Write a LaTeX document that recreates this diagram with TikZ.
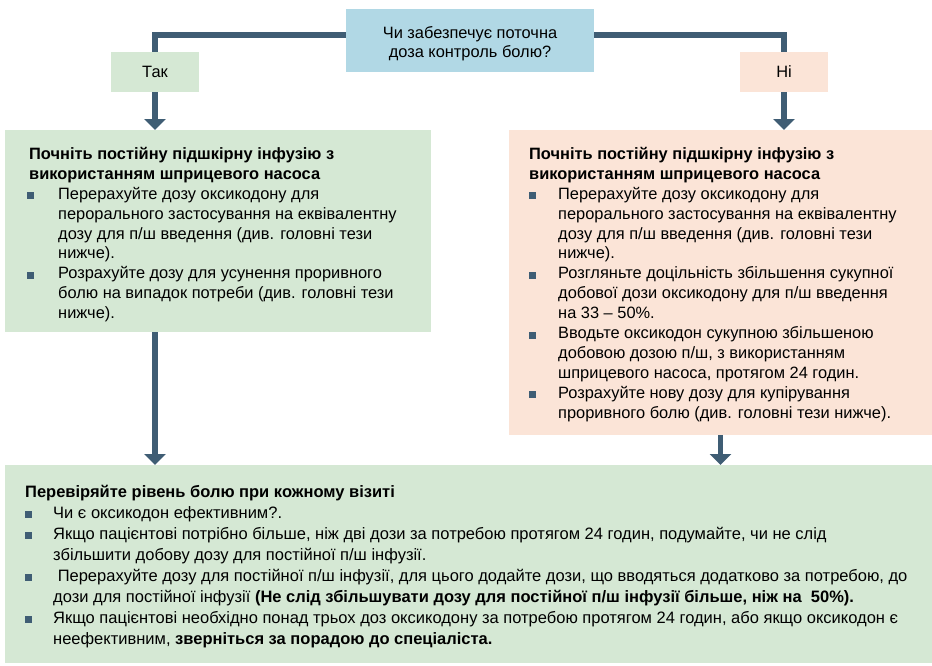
\documentclass[tikz,border=0pt]{standalone}
\usepackage{fontspec}
\setmainfont{Liberation Sans}
\usetikzlibrary{arrows.meta}

\definecolor{linec}{RGB}{63,93,116}
\definecolor{qfill}{RGB}{177,216,229}
\definecolor{gfill}{RGB}{213,232,212}
\definecolor{pfill}{RGB}{251,228,215}

% square bullet and hanging indents
\newcommand{\sqmark}{\textcolor{linec}{\rule{7pt}{7pt}}}
\newcommand{\itm}[1]{\makebox[#1][l]{\sqmark}}
\newcommand{\cnt}[1]{\hspace*{#1}}

\begin{document}
\begin{tikzpicture}[x=1pt,y=-1pt,
  boxnode/.style={draw=none,inner sep=0pt,outer sep=0pt},
  txt/.style={inner sep=0pt,anchor=north west,align=left,
    font=\fontsize{16.4}{19.9}\selectfont},
  conn/.style={draw=linec,line width=5.5pt},
  arr/.style={conn,-{Triangle[width=21pt,length=11pt]}}]
\useasboundingbox (0,0) rectangle (932,665);

% question and answers
\node[boxnode,fill=qfill,minimum width=248pt,minimum height=63pt] (q) at (470,40.5) {};
\node[inner sep=0pt,align=center,font=\fontsize{16.4}{19.5}\selectfont]
  (qt) at ([yshift=-3pt]q.center) {Чи забезпечує поточна\\доза контроль болю?};
\node[boxnode,fill=gfill,minimum width=88pt,minimum height=40pt,
  font=\fontsize{16.4}{18}\selectfont] (yes) at (155,72) {Так};
\node[boxnode,fill=pfill,minimum width=88pt,minimum height=40pt,
  font=\fontsize{16.4}{18}\selectfont] (no) at (784,72) {Ні};

% action boxes
\node[boxnode,fill=gfill,minimum width=426pt,minimum height=202pt] (L) at (218,231) {};
\node[boxnode,fill=pfill,minimum width=423pt,minimum height=305pt] (R) at (720.5,282.5) {};
\node[boxnode,fill=gfill,minimum width=927pt,minimum height=198pt] (B) at (468.5,564) {};

\node[txt] (lt) at (29,147) {%
\textbf{Почніть постійну підшкірну інфузію з}\\
\textbf{використанням шприцевого насоса}\\
\hspace*{-2pt}\itm{31pt}Перерахуйте дозу оксикодону для\\
\cnt{29pt}перорального застосування на еквівалентну\\
\cnt{29pt}дозу для п/ш введення (див. головні тези\\
\cnt{29pt}нижче).\\
\hspace*{-2pt}\itm{31pt}Розрахуйте дозу для усунення проривного\\
\cnt{29pt}болю на випадок потреби (див. головні тези\\
\cnt{29pt}нижче).};

\node[txt] (rt) at (529,147) {%
\textbf{Почніть постійну підшкірну інфузію з}\\
\textbf{використанням шприцевого насоса}\\
\itm{29pt}Перерахуйте дозу оксикодону для\\
\cnt{29pt}перорального застосування на еквівалентну\\
\cnt{29pt}дозу для п/ш введення (див. головні тези\\
\cnt{29pt}нижче).\\
\itm{29pt}Розгляньте доцільність збільшення сукупної\\
\cnt{29pt}добової дози оксикодону для п/ш введення\\
\cnt{29pt}на 33 – 50\%.\\
\itm{29pt}Вводьте оксикодон сукупною збільшеною\\
\cnt{29pt}добовою дозою п/ш, з використанням\\
\cnt{29pt}шприцевого насоса, протягом 24 годин.\\
\itm{29pt}Розрахуйте нову дозу для купірування\\
\cnt{29pt}проривного болю (див. головні тези нижче).};

\node[txt,font=\fontsize{16.5}{21}\selectfont] (bt) at (25,485) {%
\textbf{Перевіряйте рівень болю при кожному візиті}\\
\itm{28pt}Чи є оксикодон ефективним?.\\
\itm{28pt}Якщо пацієнтові потрібно більше, ніж дві дози за потребою протягом 24 годин, подумайте, чи не слід\\
\cnt{28pt}збільшити добову дозу для постійної п/ш інфузії.\\
\itm{28pt}\ Перерахуйте дозу для постійної п/ш інфузії, для цього додайте дози, що вводяться додатково за потребою, до\\
\cnt{28pt}дози для постійної інфузії \textbf{(Не слід збільшувати дозу для постійної п/ш інфузії більше, ніж на\ \ 50\%).}\\
\itm{28pt}Якщо пацієнтові необхідно понад трьох доз оксикодону за потребою протягом 24 годин, або якщо оксикодон є\\
\cnt{28pt}неефективним, \textbf{зверніться за порадою до спеціаліста.}};

% connectors
\draw[conn] ([yshift=5.5pt]q.west) -| (yes.north);
\draw[conn] ([yshift=5.5pt]q.east) -| (no.north);
\draw[arr] (yes.south) -- (yes.south |- L.north);
\draw[arr] (no.south) -- (no.south |- R.north);
\draw[arr] (yes.south |- L.south) -- (yes.south |- B.north);
\draw[arr] (R.south) -- (R.south |- B.north);
\end{tikzpicture}
\end{document}
